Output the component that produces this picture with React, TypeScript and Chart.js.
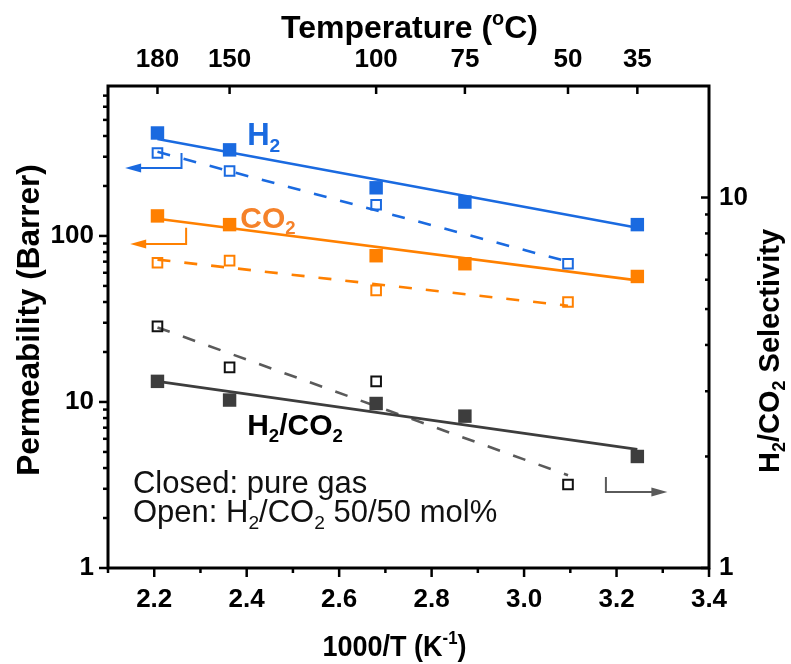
import { useEffect, useRef } from "react";
import { Chart, registerables } from "chart.js";
Chart.register(...registerables);

// ---- data ----
const tempLabels = ["180", "150", "100", "75", "50", "35"];
const tempX = [2.207, 2.363, 2.68, 2.872, 3.095, 3.245];

const xPure = [2.207, 2.363, 2.68, 2.872, 3.245];
const xMixed = [2.207, 2.363, 2.68, 3.095];

const h2Pure = [417, 330, 195, 160, 117];
const co2Pure = [132, 117, 76, 68, 57];
const h2Mixed = [316, 246, 154, 68];
const co2Mixed = [69, 71, 47, 40];
const selPure = [3.19, 2.84, 2.78, 2.57, 2.0];
const selMixed = [4.49, 3.48, 3.19, 1.68];

// fitted trend lines (end points)
const fitPureX = [2.207, 3.245];
const fitMixedX = [2.207, 3.095];
const h2PureFit = [384, 112];
const co2PureFit = [127, 54];
const h2MixedFit = [321, 70];
const co2MixedFit = [72, 38];
const selPureFit = [3.19, 2.09];
const selMixedFit = [4.46, 1.78];

// axis ticks
const xTicks = [2.2, 2.4, 2.6, 2.8, 3.0, 3.2, 3.4];
const xMinorTicks = [2.1, 2.3, 2.5, 2.7, 2.9, 3.1, 3.3];
const leftTicks = [1, 10, 100];
const leftMinorTicks = [2, 3, 4, 5, 6, 7, 8, 9, 20, 30, 40, 50, 60, 70, 80, 90, 200, 300, 400, 500, 600, 700];
const rightTicks = [1, 10];
const rightMinorTicks = [2, 3, 4, 5, 6, 7, 8, 9];

// arrows (data coordinates)
const arrowH2X = [2.259, 2.259, 2.137];
const arrowH2Y = [316, 257, 257];
const arrowCO2X = [2.269, 2.269, 2.148];
const arrowCO2Y = [112, 89.5, 89.5];
const arrowSelX = [3.177, 3.177, 3.31];
const arrowSelY = [1.76, 1.603, 1.603];

const BLUE = "#1a6ae0";
const ORANGE = "#ff8000";
const ORANGE_TXT = "#f5822a";
const DARK = "#3d3d3d";
const GRAY = "#5a5a5a";
const FAMILY = '"Liberation Sans", Arial, sans-serif';

type Seg = { t: string; k?: "sub" | "sup" };

function drawRich(ctx: CanvasRenderingContext2D, segs: Seg[], x: number, y: number, size: number, weight: string, align: "left" | "center") {
  const font = (s: number) => `${weight} ${s}px ${FAMILY}`;
  let w = 0;
  for (const s of segs) {
    ctx.font = font(s.k ? size * 0.62 : size);
    w += ctx.measureText(s.t).width;
  }
  let cx = align === "center" ? x - w / 2 : x;
  ctx.textAlign = "left";
  ctx.textBaseline = "alphabetic";
  for (const s of segs) {
    const fs = s.k ? size * 0.62 : size;
    ctx.font = font(fs);
    const dy = s.k === "sub" ? size * 0.22 : s.k === "sup" ? -size * 0.4 : 0;
    ctx.fillText(s.t, cx, y + dy);
    cx += ctx.measureText(s.t).width;
  }
}

const pts = (xs: number[], ys: number[]) => xs.map((x, i) => ({ x, y: ys[i] }));

const markerSet = (label: string, xs: number[], ys: number[], color: string, filled: boolean, axis: string) => ({
  label,
  data: pts(xs, ys),
  yAxisID: axis,
  xAxisID: "x",
  showLine: false,
  pointStyle: "rect",
  pointRadius: filled ? 9.5 : 6.8,
  backgroundColor: filled ? color : "rgba(0,0,0,0)",
  borderColor: color,
  borderWidth: filled ? 0 : 2,
  order: 0,
});

const lineSet = (label: string, xs: number[], ys: number[], color: string, dashed: boolean, axis: string) => ({
  label,
  data: pts(xs, ys),
  yAxisID: axis,
  xAxisID: "x",
  showLine: true,
  pointRadius: 0,
  borderColor: color,
  borderWidth: 2.6,
  borderDash: dashed ? [13, 14] : [],
  fill: false,
  order: 1,
});

const framePlugin = {
  id: "frame",
  afterDraw(chart: any) {
    const ctx: CanvasRenderingContext2D = chart.ctx;
    const { left, right, top, bottom } = chart.chartArea;
    const sx = chart.scales.x;
    const sy = chart.scales.y;
    const sy2 = chart.scales.y2;
    ctx.save();
    const line = (x1: number, y1: number, x2: number, y2: number) => {
      ctx.beginPath();
      ctx.moveTo(x1, y1);
      ctx.lineTo(x2, y2);
      ctx.stroke();
    };
    ctx.strokeStyle = "#000";
    ctx.lineWidth = 2.5;
    for (const v of leftTicks) { const y = sy.getPixelForValue(v); line(left, y, left - 9, y); }
    for (const v of leftMinorTicks) { const y = sy.getPixelForValue(v); line(left, y, left - 5, y); }
    for (const v of xTicks) { const x = sx.getPixelForValue(v); line(x, bottom, x, bottom + 9); }
    for (const v of xMinorTicks) { const x = sx.getPixelForValue(v); line(x, bottom, x, bottom + 5); }
    for (const v of tempX) { const x = sx.getPixelForValue(v); line(x, top, x, top + 8); }
    for (const v of rightTicks) { const y = sy2.getPixelForValue(v); line(right, y, right - 8, y); }
    for (const v of rightMinorTicks) { const y = sy2.getPixelForValue(v); line(right, y, right - 4, y); }
    ctx.lineWidth = 3;
    ctx.strokeRect(left, top, right - left, bottom - top);

    // arrows
    const arrow = (xs: number[], ys: number[], scaleY: any, color: string) => {
      const px = xs.map((v) => sx.getPixelForValue(v));
      const py = ys.map((v) => scaleY.getPixelForValue(v));
      ctx.strokeStyle = color;
      ctx.fillStyle = color;
      ctx.lineWidth = 2;
      const n = px.length;
      const dir = Math.sign(px[n - 1] - px[n - 2]);
      ctx.beginPath();
      ctx.moveTo(px[0], py[0]);
      for (let i = 1; i < n - 1; i++) ctx.lineTo(px[i], py[i]);
      ctx.lineTo(px[n - 1] - dir * 12, py[n - 1]);
      ctx.stroke();
      ctx.beginPath();
      ctx.moveTo(px[n - 1], py[n - 1]);
      ctx.lineTo(px[n - 1] - dir * 16, py[n - 1] - 4.5);
      ctx.lineTo(px[n - 1] - dir * 16, py[n - 1] + 4.5);
      ctx.closePath();
      ctx.fill();
    };
    arrow(arrowH2X, arrowH2Y, sy, BLUE);
    arrow(arrowCO2X, arrowCO2Y, sy, ORANGE);
    arrow(arrowSelX, arrowSelY, sy2, GRAY);

    // in-plot labels
    ctx.fillStyle = BLUE;
    drawRich(ctx, [{ t: "H" }, { t: "2", k: "sub" }], sx.getPixelForValue(2.401), sy.getPixelForValue(353), 31, "bold", "left");
    ctx.fillStyle = ORANGE_TXT;
    drawRich(ctx, [{ t: "CO" }, { t: "2", k: "sub" }], sx.getPixelForValue(2.386), sy.getPixelForValue(112), 30, "bold", "left");
    ctx.fillStyle = "#000";
    drawRich(ctx, [{ t: "H" }, { t: "2", k: "sub" }, { t: "/CO" }, { t: "2", k: "sub" }], sx.getPixelForValue(2.401), sy.getPixelForValue(6.33), 30, "bold", "left");
    ctx.fillStyle = "#111";
    drawRich(ctx, [{ t: "Closed: pure gas" }], sx.getPixelForValue(2.154), sy.getPixelForValue(2.83), 31, "normal", "left");
    drawRich(ctx, [{ t: "Open: H" }, { t: "2", k: "sub" }, { t: "/CO" }, { t: "2", k: "sub" }, { t: " 50/50 mol%" }], sx.getPixelForValue(2.154), sy.getPixelForValue(1.89), 31, "normal", "left");

    // axis titles
    ctx.fillStyle = "#000";
    const cxm = (left + right) / 2;
    drawRich(ctx, [{ t: "Temperature (" }, { t: "o", k: "sup" }, { t: "C)" }], cxm + 1, top - 48, 32, "bold", "center");
    ctx.save();
    ctx.translate(cxm - 14, bottom + 88);
    ctx.scale(0.9, 1);
    drawRich(ctx, [{ t: "1000/T (K" }, { t: "-1", k: "sup" }, { t: ")" }], 0, 0, 30, "bold", "center");
    ctx.restore();
    ctx.save();
    ctx.translate(left - 69, (top + bottom) / 2 - 7);
    ctx.rotate(-Math.PI / 2);
    drawRich(ctx, [{ t: "Permeability (Barrer)" }], 0, 0, 31.5, "bold", "center");
    ctx.restore();
    ctx.save();
    ctx.translate(right + 70, (top + bottom) / 2 + 24);
    ctx.rotate(-Math.PI / 2);
    drawRich(ctx, [{ t: "H" }, { t: "2", k: "sub" }, { t: "/CO" }, { t: "2", k: "sub" }, { t: " Selectivity" }], 0, 0, 29, "bold", "center");
    ctx.restore();
    ctx.restore();
  },
};

const tickFont = { family: FAMILY, size: 26, weight: "bold" as const };

export default function App() {
  const ref = useRef<HTMLCanvasElement>(null);
  useEffect(() => {
    const datasets: any[] = [
      lineSet("H2 pure fit", fitPureX, h2PureFit, BLUE, false, "y"),
      lineSet("H2 mixed fit", fitMixedX, h2MixedFit, BLUE, true, "y"),
      lineSet("CO2 pure fit", fitPureX, co2PureFit, ORANGE, false, "y"),
      lineSet("CO2 mixed fit", fitMixedX, co2MixedFit, ORANGE, true, "y"),
      lineSet("Sel pure fit", fitPureX, selPureFit, DARK, false, "y2"),
      lineSet("Sel mixed fit", fitMixedX, selMixedFit, GRAY, true, "y2"),
      markerSet("H2 pure", xPure, h2Pure, BLUE, true, "y"),
      markerSet("H2 mixed", xMixed, h2Mixed, BLUE, false, "y"),
      markerSet("CO2 pure", xPure, co2Pure, ORANGE, true, "y"),
      markerSet("CO2 mixed", xMixed, co2Mixed, ORANGE, false, "y"),
      markerSet("Sel pure", xPure, selPure, DARK, true, "y2"),
      markerSet("Sel mixed", xMixed, selMixed, "#111", false, "y2"),
    ];
    const chart = new Chart(ref.current as HTMLCanvasElement, {
      type: "scatter",
      data: { datasets },
      options: {
        animation: false,
        responsive: true,
        maintainAspectRatio: false,
        events: [],
        layout: { padding: 0 },
        plugins: { legend: { display: false }, tooltip: { enabled: false } },
        scales: {
          x: {
            type: "linear",
            position: "bottom",
            min: 2.1,
            max: 3.4,
            grid: { display: false, drawTicks: false },
            border: { display: false },
            afterBuildTicks: (s: any) => { s.ticks = xTicks.map((v) => ({ value: v })); },
            ticks: { font: tickFont, color: "#000", padding: 16, maxRotation: 0, autoSkip: false, callback: (v: any) => Number(v).toFixed(1) },
            afterFit: (s: any) => { s.height = 96; },
          },
          x2: {
            type: "linear",
            position: "top",
            min: 2.1,
            max: 3.4,
            grid: { display: false, drawTicks: false },
            border: { display: false },
            afterBuildTicks: (s: any) => { s.ticks = tempX.map((v) => ({ value: v })); },
            ticks: { font: tickFont, color: "#000", padding: 11, maxRotation: 0, autoSkip: false, callback: (_v: any, i: number) => tempLabels[i] },
            afterFit: (s: any) => { s.height = 86; },
          },
          y: {
            type: "logarithmic",
            position: "left",
            min: 1,
            max: 800,
            grid: { display: false, drawTicks: false },
            border: { display: false },
            afterBuildTicks: (s: any) => { s.ticks = leftTicks.map((v) => ({ value: v })); },
            ticks: { font: tickFont, color: "#000", padding: 14, autoSkip: false, callback: (v: any) => String(v) },
            afterFit: (s: any) => { s.width = 108; },
          },
          y2: {
            type: "logarithmic",
            position: "right",
            min: 1,
            max: 20,
            grid: { display: false, drawTicks: false },
            border: { display: false },
            afterBuildTicks: (s: any) => { s.ticks = rightTicks.map((v) => ({ value: v })); },
            ticks: { font: tickFont, color: "#000", padding: 10, autoSkip: false, callback: (v: any) => String(v) },
            afterFit: (s: any) => { s.width = 82; },
          },
        },
      } as any,
      plugins: [framePlugin],
    } as any);
    return () => chart.destroy();
  }, []);
  return (
    <div style={{ position: "absolute", left: 0, top: 0, width: 791, height: 664, background: "#fff" }}>
      <canvas ref={ref} />
    </div>
  );
}
